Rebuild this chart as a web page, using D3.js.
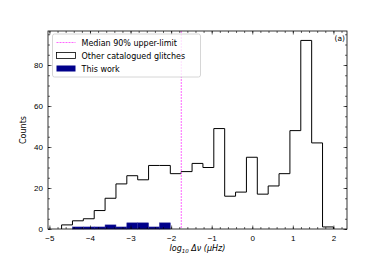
<!DOCTYPE html>
<html>
<head>
<meta charset="utf-8">
<script src="https://cdn.jsdelivr.net/npm/d3@7"></script>
<style>
  body { margin: 0; background: #fff; }
  svg { font-family: "DejaVu Sans", sans-serif; }
</style>
</head>
<body>
<div id="chart"></div>
<script>
// bin edges (log10 dnu), 25 bins
var binEdges = [-4.70, -4.432, -4.164, -3.896, -3.628, -3.36, -3.092, -2.824, -2.556, -2.288,
    -2.02, -1.752, -1.484, -1.216, -0.948, -0.68, -0.412, -0.144, 0.124, 0.392,
    0.66, 0.928, 1.196, 1.464, 1.732, 2.00];
// counts per bin
var otherCounts = [2, 4, 5, 9, 15, 22, 26, 24, 31, 31, 27, 28, 32, 30, 49, 16, 18, 35, 17, 21, 27, 48, 92, 42, 1];
var thisWork = [0, 1, 1, 1, 2, 1, 3, 3, 1, 3, 0, 0, 0, 0, 0, 0, 0, 0, 0, 0, 0, 0, 0, 0, 0];
var medianLimit = -1.75;
var xTicks = [-5, -4, -3, -2, -1, 0, 1, 2];
var yTicks = [0, 20, 40, 60, 80];
var legendLabels = ["Median 90% upper-limit", "Other catalogued glitches", "This work"];

var margin = {top: 31, right: 40, bottom: 29, left: 48},
    width = 387 - margin.left - margin.right,
    height = 258 - margin.top - margin.bottom;

var x = d3.scaleLinear().domain([-5.035, 2.335]).range([0, width]);
var y = d3.scaleLinear().domain([0, 96.6]).range([height, 0]);

var svg = d3.select("#chart").append("svg")
    .attr("width", 387)
    .attr("height", 258)
    .append("g")
    .attr("transform", "translate(" + margin.left + "," + margin.top + ")");

// this work bars
thisWork.forEach(function(d, i) {
    if (d <= 0) return;
    svg.append("rect")
        .attr("x", x(binEdges[i]))
        .attr("y", y(d))
        .attr("width", x(binEdges[i + 1]) - x(binEdges[i]))
        .attr("height", y(0) - y(d))
        .style("fill", "#00008b")
        .style("stroke", "#2a2a9a")
        .style("stroke-width", 0.5);
});

// other glitches step outline
var pts = [[binEdges[0], 0]];
otherCounts.forEach(function(d, i) {
    pts.push([binEdges[i], d]);
    pts.push([binEdges[i + 1], d]);
});
pts.push([binEdges[binEdges.length - 1], 0]);

svg.append("path")
    .datum(pts)
    .attr("d", d3.line().x(function(d) { return x(d[0]); }).y(function(d) { return y(d[1]); }))
    .style("fill", "none")
    .style("stroke", "#000")
    .style("stroke-width", 1);

// median line
svg.append("line")
    .attr("x1", x(medianLimit)).attr("x2", x(medianLimit))
    .attr("y1", 0).attr("y2", height)
    .style("stroke", "#ff66ff")
    .style("stroke-width", 1)
    .style("stroke-dasharray", "2,1");

// axes, ticks inward on all sides
function styleAxis(g) {
    g.select(".domain").remove();
    g.selectAll("text").style("font-size", "8px").style("fill", "#000");
    g.selectAll("line").style("stroke", "#000").style("stroke-width", 0.6);
}
var xMinor = d3.range(-5, 2.4, 0.2);
var yMinor = d3.range(0, 96, 5);

svg.append("g").attr("transform", "translate(0," + height + ")")
    .call(d3.axisBottom(x).tickValues(xMinor).tickSize(-2).tickFormat(""))
    .call(styleAxis);
svg.append("g").attr("transform", "translate(0," + height + ")")
    .call(d3.axisBottom(x).tickValues(xTicks).tickSize(-3.5).tickPadding(6)
        .tickFormat(function(d) { return d < 0 ? "\u2212" + (-d) : d; }))
    .call(styleAxis);
svg.append("g")
    .call(d3.axisTop(x).tickValues(xMinor).tickSize(-2).tickFormat(""))
    .call(styleAxis);
svg.append("g")
    .call(d3.axisTop(x).tickValues(xTicks).tickSize(-3.5).tickFormat(""))
    .call(styleAxis);

svg.append("g")
    .call(d3.axisLeft(y).tickValues(yMinor).tickSize(-2).tickFormat(""))
    .call(styleAxis);
svg.append("g")
    .call(d3.axisLeft(y).tickValues(yTicks).tickSize(-3.5).tickPadding(5))
    .call(styleAxis);
svg.append("g").attr("transform", "translate(" + width + ",0)")
    .call(d3.axisRight(y).tickValues(yMinor).tickSize(-2).tickFormat(""))
    .call(styleAxis);
svg.append("g").attr("transform", "translate(" + width + ",0)")
    .call(d3.axisRight(y).tickValues(yTicks).tickSize(-3.5).tickFormat(""))
    .call(styleAxis);

// frame
svg.append("rect")
    .attr("width", width).attr("height", height)
    .style("fill", "none").style("stroke", "#000").style("stroke-width", 0.8);

// labels
svg.append("text")
    .attr("transform", "translate(-22," + (height / 2) + ") rotate(-90)")
    .attr("text-anchor", "middle")
    .style("font-size", "8px")
    .text("Counts");

var xl = svg.append("text")
    .attr("x", width / 2).attr("y", height + 22)
    .attr("text-anchor", "middle")
    .style("font-size", "8px")
    .style("font-style", "italic");
xl.append("tspan").text("log");
xl.append("tspan").attr("dy", 2).style("font-size", "5.5px").text("10");
xl.append("tspan").attr("dy", -2).text(" \u0394\u03bd (\u03bcHz)");

svg.append("text")
    .attr("x", width - 2).attr("y", 10)
    .attr("text-anchor", "end")
    .style("font-size", "7.5px")
    .text("(a)");

// legend
var lg = svg.append("g").attr("transform", "translate(4.5,3)");
lg.append("rect")
    .attr("width", 148).attr("height", 43).attr("rx", 2)
    .style("fill", "#fff").style("fill-opacity", 0.8)
    .style("stroke", "#ccc").style("stroke-width", 0.8);
lg.append("line")
    .attr("x1", 4).attr("x2", 23).attr("y1", 8.5).attr("y2", 8.5)
    .style("stroke", "#ff66ff").style("stroke-dasharray", "2,1");
lg.append("rect")
    .attr("x", 4).attr("y", 18.5).attr("width", 19).attr("height", 6)
    .style("fill", "#fff").style("stroke", "#000").style("stroke-width", 0.8);
lg.append("rect")
    .attr("x", 4).attr("y", 31.5).attr("width", 19).attr("height", 6)
    .style("fill", "#00008b");
legendLabels.forEach(function(t, i) {
    lg.append("text")
        .attr("x", 29).attr("y", 11.5 + i * 13)
        .style("font-size", "8px")
        .text(t);
});
</script>
</body>
</html>
